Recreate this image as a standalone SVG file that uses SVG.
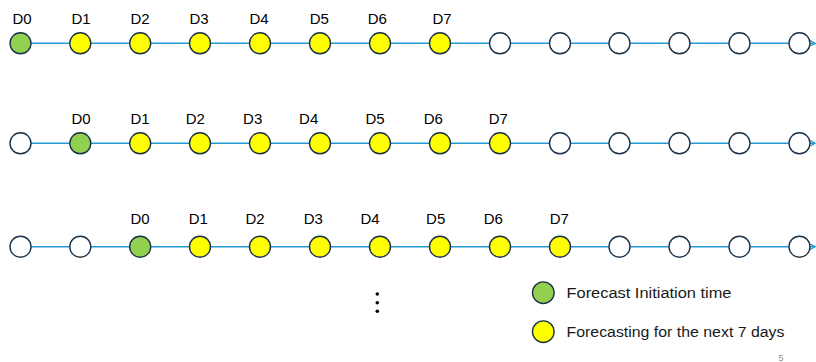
<svg xmlns="http://www.w3.org/2000/svg" width="816" height="362" viewBox="0 0 816 362">
  <style>
    .axis { stroke: #229bd6; stroke-width: 1.6; fill: none; }
    .day { stroke: #1b3247; stroke-width: 1.4; }
    .empty { fill: #ffffff; }
    .init { fill: #92d050; }
    .fc { fill: #ffff00; }
    .lbl { font-family: "Liberation Sans", Arial, sans-serif; font-size: 15px; fill: #000000; text-anchor: middle; }
    .legend { font-family: "Liberation Sans", Arial, sans-serif; font-size: 15.5px; fill: #1a1a1a; }
    .page { font-family: "Liberation Sans", Arial, sans-serif; font-size: 9px; fill: #8c8c8c; }
  </style>
  <defs>
    <marker id="arrow" viewBox="0 0 6 6" refX="5" refY="3" markerWidth="6" markerHeight="6" markerUnits="userSpaceOnUse" orient="auto">
      <path d="M0,0 L5,3 L0,6" fill="none" stroke="#229bd6" stroke-width="1.2"/>
    </marker>
  </defs>

  <!-- timeline axes -->
  <g id="connectors">
    <line class="axis" x1="20" y1="43.3" x2="815" y2="43.3" marker-end="url(#arrow)"/>
    <line class="axis" x1="20" y1="143.3" x2="815" y2="143.3" marker-end="url(#arrow)"/>
    <line class="axis" x1="20" y1="246.7" x2="815" y2="246.7" marker-end="url(#arrow)"/>
  </g>

  <!-- row 1: forecast starting at the first day -->
  <g id="row1">
    <circle class="day init" cx="20.5" cy="43.3" r="10.5"/>
    <circle class="day fc" cx="80.3" cy="43.3" r="10.5"/>
    <circle class="day fc" cx="140.2" cy="43.3" r="10.5"/>
    <circle class="day fc" cx="200" cy="43.3" r="10.5"/>
    <circle class="day fc" cx="260" cy="43.3" r="10.5"/>
    <circle class="day fc" cx="320" cy="43.3" r="10.5"/>
    <circle class="day fc" cx="380" cy="43.3" r="10.5"/>
    <circle class="day fc" cx="440" cy="43.3" r="10.5"/>
    <circle class="day empty" cx="500" cy="43.3" r="10.5"/>
    <circle class="day empty" cx="560" cy="43.3" r="10.5"/>
    <circle class="day empty" cx="619.5" cy="43.3" r="10.5"/>
    <circle class="day empty" cx="679.5" cy="43.3" r="10.5"/>
    <circle class="day empty" cx="739.5" cy="43.3" r="10.5"/>
    <circle class="day empty" cx="799.5" cy="43.3" r="10.5"/>
    <text class="lbl" x="22" y="24">D0</text>
    <text class="lbl" x="81" y="24">D1</text>
    <text class="lbl" x="140" y="24">D2</text>
    <text class="lbl" x="199" y="24">D3</text>
    <text class="lbl" x="259" y="24">D4</text>
    <text class="lbl" x="319.3" y="24">D5</text>
    <text class="lbl" x="377.3" y="24">D6</text>
    <text class="lbl" x="442" y="24">D7</text>
  </g>

  <!-- row 2: forecast starting one day later -->
  <g id="row2">
    <circle class="day empty" cx="20.5" cy="143.3" r="10.5"/>
    <circle class="day init" cx="80.3" cy="143.3" r="10.5"/>
    <circle class="day fc" cx="140.2" cy="143.3" r="10.5"/>
    <circle class="day fc" cx="200" cy="143.3" r="10.5"/>
    <circle class="day fc" cx="260" cy="143.3" r="10.5"/>
    <circle class="day fc" cx="320" cy="143.3" r="10.5"/>
    <circle class="day fc" cx="380" cy="143.3" r="10.5"/>
    <circle class="day fc" cx="440" cy="143.3" r="10.5"/>
    <circle class="day fc" cx="500" cy="143.3" r="10.5"/>
    <circle class="day empty" cx="560" cy="143.3" r="10.5"/>
    <circle class="day empty" cx="619.5" cy="143.3" r="10.5"/>
    <circle class="day empty" cx="679.5" cy="143.3" r="10.5"/>
    <circle class="day empty" cx="739.5" cy="143.3" r="10.5"/>
    <circle class="day empty" cx="799.5" cy="143.3" r="10.5"/>
    <text class="lbl" x="81" y="123.5">D0</text>
    <text class="lbl" x="140" y="123.5">D1</text>
    <text class="lbl" x="195.3" y="123.5">D2</text>
    <text class="lbl" x="252.7" y="123.5">D3</text>
    <text class="lbl" x="308.7" y="123.5">D4</text>
    <text class="lbl" x="375" y="123.5">D5</text>
    <text class="lbl" x="433.3" y="123.5">D6</text>
    <text class="lbl" x="498.3" y="123.5">D7</text>
  </g>

  <!-- row 3: forecast starting two days later -->
  <g id="row3">
    <circle class="day empty" cx="20.5" cy="246.7" r="10.5"/>
    <circle class="day empty" cx="80.3" cy="246.7" r="10.5"/>
    <circle class="day init" cx="140.2" cy="246.7" r="10.5"/>
    <circle class="day fc" cx="200" cy="246.7" r="10.5"/>
    <circle class="day fc" cx="260" cy="246.7" r="10.5"/>
    <circle class="day fc" cx="320" cy="246.7" r="10.5"/>
    <circle class="day fc" cx="380" cy="246.7" r="10.5"/>
    <circle class="day fc" cx="440" cy="246.7" r="10.5"/>
    <circle class="day fc" cx="500" cy="246.7" r="10.5"/>
    <circle class="day fc" cx="560" cy="246.7" r="10.5"/>
    <circle class="day empty" cx="619.5" cy="246.7" r="10.5"/>
    <circle class="day empty" cx="679.5" cy="246.7" r="10.5"/>
    <circle class="day empty" cx="739.5" cy="246.7" r="10.5"/>
    <circle class="day empty" cx="799.5" cy="246.7" r="10.5"/>
    <text class="lbl" x="140" y="224">D0</text>
    <text class="lbl" x="198.3" y="224">D1</text>
    <text class="lbl" x="255" y="224">D2</text>
    <text class="lbl" x="313.3" y="224">D3</text>
    <text class="lbl" x="370" y="224">D4</text>
    <text class="lbl" x="435.7" y="224">D5</text>
    <text class="lbl" x="493.3" y="224">D6</text>
    <text class="lbl" x="559.3" y="224">D7</text>
  </g>

  <!-- continuation dots -->
  <g id="ellipsis" fill="#000000">
    <circle cx="377.3" cy="294" r="1.8"/>
    <circle cx="377.3" cy="302.7" r="1.8"/>
    <circle cx="377.3" cy="311.2" r="1.8"/>
  </g>

  <!-- legend -->
  <g id="legend-init">
    <circle class="day init" cx="543.3" cy="292.7" r="10.8"/>
    <text class="legend" x="566.5" y="297.5" textLength="165" lengthAdjust="spacingAndGlyphs">Forecast Initiation time</text>
  </g>
  <g id="legend-forecast">
    <circle class="day fc" cx="543.3" cy="331.7" r="10.8"/>
    <text class="legend" x="566.5" y="336.5" textLength="218" lengthAdjust="spacingAndGlyphs">Forecasting for the next 7 days</text>
  </g>

  <text class="page" x="778.5" y="361">5</text>
</svg>
